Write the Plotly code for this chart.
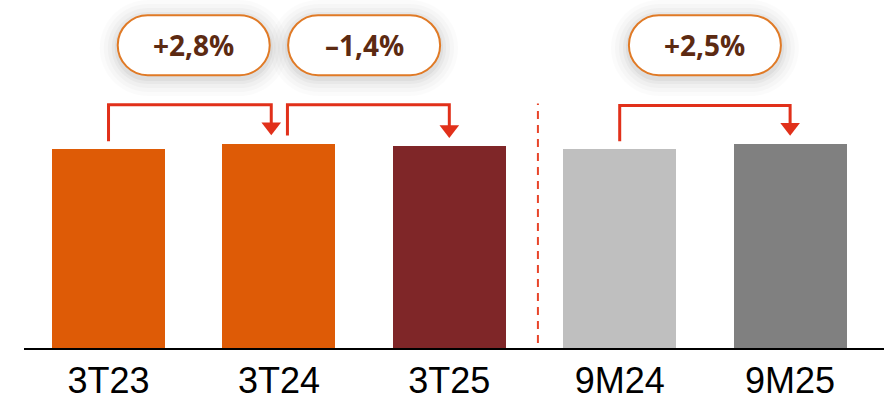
import plotly.graph_objects as go

# ---- data ----
categories = ["3T23", "3T24", "3T25", "9M24", "9M25"]
values = [100.0, 102.8, 101.4, 100.0, 102.5]
bar_colors = ["#DE5B06", "#DE5B06", "#7F2628", "#BFBFBF", "#808080"]
change_labels = ["+2,8%", "\u20131,4%", "+2,5%"]
change_pairs = [(0, 1), (1, 2), (3, 4)]

# ---- styling ----
ARROW = "#E1301A"
PILL_BORDER = "#E07A26"
PILL_TEXT = "#5C2A12"
start_shift = [0.0, 0.05, 0.0]
end_shift = [-0.045, 0.0, 0.0]
PILL_Y = 152.3
PILL_W, PILL_H = 152, 60

fig = go.Figure()
fig.add_trace(go.Bar(x=list(range(len(categories))), y=values,
                     marker=dict(color=bar_colors, line=dict(width=0)),
                     width=0.663, hoverinfo="skip"))

def pill_path(w, h):
    r = h / 2
    k = 0.5523 * r
    hw = w / 2 - r
    return (f"M{-hw},{-r} L{hw},{-r} "
            f"C{hw + k},{-r} {hw + r},{-k} {hw + r},0 "
            f"C{hw + r},{k} {hw + k},{r} {hw},{r} "
            f"L{-hw},{r} "
            f"C{-hw - k},{r} {-hw - r},{k} {-hw - r},0 "
            f"C{-hw - r},{-k} {-hw - k},{-r} {-hw},{-r} Z")

for idx, ((i, j), lab) in enumerate(zip(change_pairs, change_labels)):
    xs = i + start_shift[idx]
    xe = j + end_shift[idx]
    top = max(values[i], values[j]) + 19.5
    fig.add_trace(go.Scatter(
        x=[xs, xs, xe, xe],
        y=[values[i] + 4, top, top, values[j] + 8.5],
        mode="lines", line=dict(color=ARROW, width=3),
        hoverinfo="skip"))
    fig.add_trace(go.Scatter(
        x=[xe], y=[values[j] + 8.5], mode="markers",
        marker=dict(symbol="triangle-down", size=17, color=ARROW,
                    line=dict(width=0)),
        hoverinfo="skip"))
    xc = (i + j) / 2
    # soft shadow
    for s, a in [(18, 0.014), (14, 0.018), (10, 0.024), (6, 0.032), (3, 0.045)]:
        fig.add_shape(type="path", xref="x", yref="y",
                      xsizemode="pixel", ysizemode="pixel",
                      xanchor=xc, yanchor=PILL_Y - 1.5,
                      path=pill_path(PILL_W + 2 * s, PILL_H + 2 * s),
                      fillcolor=f"rgba(0,0,0,{a})", line=dict(width=0),
                      layer="below")
    fig.add_shape(type="path", xref="x", yref="y",
                  xsizemode="pixel", ysizemode="pixel",
                  xanchor=xc, yanchor=PILL_Y,
                  path=pill_path(PILL_W, PILL_H),
                  fillcolor="white", line=dict(color=PILL_BORDER, width=2))
    fig.add_annotation(x=xc, y=PILL_Y, text=f"<b>{lab}</b>", showarrow=False,
                       font=dict(family="Open Sans", size=28, color=PILL_TEXT),
                       xanchor="center", yanchor="middle")

# dashed separator
fig.add_shape(type="line", xref="x", yref="y", x0=2.52, x1=2.52, y0=2.5, y1=123,
              line=dict(color="#E8452A", width=2, dash="8px,6px"))

fig.update_layout(
    width=884, height=401,
    margin=dict(l=24, r=0, t=0, b=53),
    paper_bgcolor="white", plot_bgcolor="white",
    showlegend=False,
    bargap=0,
    xaxis=dict(range=[-0.496, 4.551], tickmode="array",
               tickvals=list(range(len(categories))), ticktext=categories,
               showgrid=False, zeroline=False, showline=True,
               linecolor="black", linewidth=2, ticks="",
               tickfont=dict(family="Liberation Sans", size=36, color="black"),
               fixedrange=True),
    yaxis=dict(range=[0, 175], visible=False, fixedrange=True),
)
fig.write_html("out.html", config={"displayModeBar": False})
